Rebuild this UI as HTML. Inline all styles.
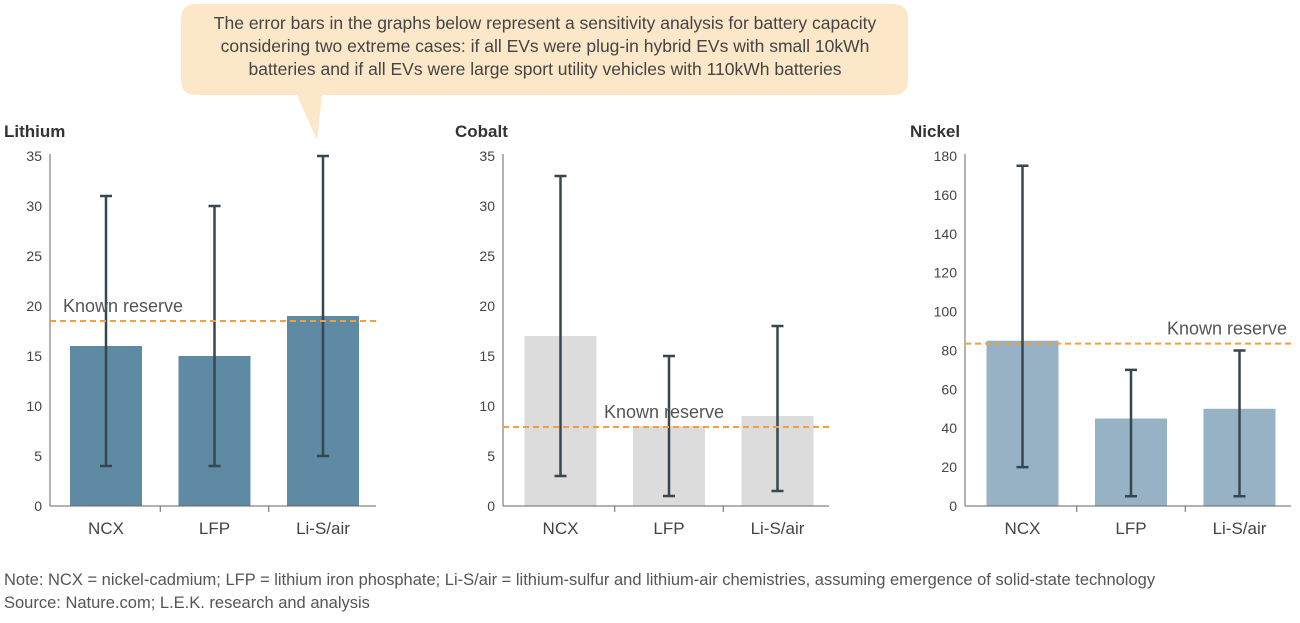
<!DOCTYPE html>
<html><head><meta charset="utf-8"><style>
body{margin:0;background:#fff;font-family:"Liberation Sans",sans-serif;}
svg text{font-family:"Liberation Sans",sans-serif;}
</style></head><body>
<svg id="c" width="1300" height="618" viewBox="0 0 1300 618" xmlns="http://www.w3.org/2000/svg">
<g>
<path d="M196,4 H893 Q908,4 908,19 V80 Q908,95 893,95 H322 L317,140 L297,95 H196 Q181,95 181,80 V19 Q181,4 196,4 Z" fill="#fce8c8"/>
<text x="545" y="29" text-anchor="middle" font-size="17.5" fill="#444">The error bars in the graphs below represent a sensitivity analysis for battery capacity</text>
<text x="545" y="52" text-anchor="middle" font-size="17.5" fill="#444">considering two extreme cases: if all EVs were plug-in hybrid EVs with small 10kWh</text>
<text x="545" y="75" text-anchor="middle" font-size="17.5" fill="#444">batteries and if all EVs were large sport utility vehicles with 110kWh batteries</text>
</g>
<text x="4" y="585" font-size="16.5" fill="#555">Note: NCX = nickel-cadmium; LFP = lithium iron phosphate; Li-S/air = lithium-sulfur and lithium-air chemistries, assuming emergence of solid-state technology</text>
<text x="4" y="608" font-size="16.5" fill="#555">Source: Nature.com; L.E.K. research and analysis</text>
</svg>
<script>
const categories=["NCX","LFP","Li-S/air"];
const lithiumValues=[16,15,19];
const lithiumLow=[4,4,5];
const lithiumHigh=[31,30,35];
const lithiumReserve=18.5;
const cobaltValues=[17,8,9];
const cobaltLow=[3,1,1.5];
const cobaltHigh=[33,15,18];
const cobaltReserve=7.9;
const nickelValues=[85,45,50];
const nickelLow=[20,5,5];
const nickelHigh=[175,70,80];
const nickelReserve=83.5;
const lithiumTicks=[0,5,10,15,20,25,30,35];
const cobaltTicks=[0,5,10,15,20,25,30,35];
const nickelTicks=[0,20,40,60,80,100,120,140,160,180];

const svg=document.getElementById('c');
const NS="http://www.w3.org/2000/svg";
function mk(tag,attrs,parent){const e=document.createElementNS(NS,tag);for(const k in attrs)e.setAttribute(k,attrs[k]);(parent||svg).appendChild(e);return e;}

function panel(p){
  const g=mk('g',{});
  
  
  const y=v=>506-v*350/p.max;
  const t=mk('text',{x:p.titleX,y:137,'font-size':17,'font-weight':'bold',fill:'#333'},g);
  t.textContent=p.title;
  
  
  p.ticks.forEach(v=>{
    const tl=mk('text',{x:p.ax-8,y:y(v)+5,'font-size':14,fill:'#444','text-anchor':'end'},g);
    tl.textContent=v;
    
    
  });
  const ya=mk('line',{x1:p.ax,x2:p.ax,y1:y(p.max)-2,y2:506,stroke:'#666','stroke-width':1},g);
  
  
  const bw=72, step=108.5;
  categories.forEach((c,i)=>{
    const cx=p.ax+p.off+i*step;
    const b=mk('rect',{x:cx-bw/2,y:y(p.vals[i]),width:bw,height:506-y(p.vals[i]),fill:p.color},g);
    
    
    const e=mk('path',{d:`M${cx},${y(p.lo[i])}V${y(p.hi[i])}M${cx-6},${y(p.lo[i])}H${cx+6}M${cx-6},${y(p.hi[i])}H${cx+6}`,stroke:'#37474f','stroke-width':2.5,fill:'none'},g);
    
    
    const l=mk('text',{x:cx,y:534,'font-size':17,fill:'#444','text-anchor':'middle'},g);
    l.textContent=c;
    
    
    if(i>0){const s=mk('line',{x1:cx-step/2,x2:cx-step/2,y1:506,y2:512,stroke:'#666'},g);
      }
  });
  const xa=mk('line',{x1:p.ax,x2:p.ax+326,y1:506,y2:506,stroke:'#666'},g);
  
  
  const r=mk('line',{x1:p.ax,x2:p.ax+326,y1:y(p.res),y2:y(p.res),stroke:'#f0a040','stroke-width':2,'stroke-dasharray':'6,4'},g);
  
  
  const rl=mk('text',{x:p.resX,y:y(p.res)-9,'font-size':18,fill:'#555','text-anchor':p.anchor},g);
  rl.textContent='Known reserve';
  
  
}
panel({key:'lithium',title:'Lithium',titleX:4,ax:50,off:56,max:35,ticks:lithiumTicks,vals:lithiumValues,lo:lithiumLow,hi:lithiumHigh,res:lithiumReserve,color:'#5f8aa3',resX:63,anchor:'start'});
panel({key:'cobalt',title:'Cobalt',titleX:455,ax:503,off:57.5,max:35,ticks:cobaltTicks,vals:cobaltValues,lo:cobaltLow,hi:cobaltHigh,res:cobaltReserve,color:'#dcdcdc',resX:604,anchor:'start'});
panel({key:'nickel',title:'Nickel',titleX:910,ax:965,off:57.5,max:180,ticks:nickelTicks,vals:nickelValues,lo:nickelLow,hi:nickelHigh,res:nickelReserve,color:'#97b2c4',resX:1287,anchor:'end'});
</script>
</body></html>
